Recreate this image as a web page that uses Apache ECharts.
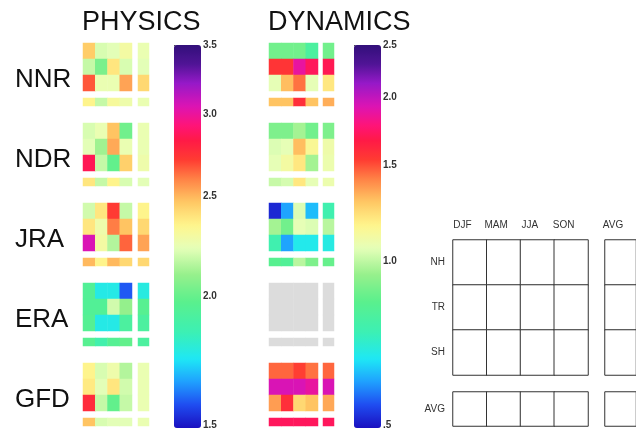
<!DOCTYPE html>
<html><head><meta charset="utf-8">
<script src="https://cdn.jsdelivr.net/npm/echarts@6/dist/echarts.min.js"></script>
<style>html,body{margin:0;padding:0;background:#fff}#c{width:636px;height:430px}</style>
</head><body><div id="c"></div>
<script>
const models = ['NNR', 'NDR', 'JRA', 'ERA', 'GFD'];
const seasons = ['DJF', 'MAM', 'JJA', 'SON'];
const regions = ['NH', 'TR', 'SH'];
const avgLabel = ['AVG'];
const panelTitles = ['PHYSICS', 'DYNAMICS'];
const physicsTicks = [1.5, 2.0, 2.5, 3.0, 3.5];
const physicsTickLabels = ['1.5', '2.0', '2.5', '3.0', '3.5'];
const dynamicsTicks = [0.5, 1.0, 1.5, 2.0, 2.5];
const dynamicsTickLabels = ['.5', '1.0', '1.5', '2.0', '2.5'];

// rows: NH, TR, SH, AVG ; columns: DJF, MAM, JJA, SON, AVG
const physicsNNR = [
  [2.46, 2.21, 2.23, 2.29, 2.25],
  [2.18, 2.05, 2.39, 2.21, 2.23],
  [2.67, 2.25, 2.25, 2.54, 2.43],
  [2.35, 2.18, 2.31, 2.27, 2.25]];
const physicsNDR = [
  [2.21, 2.25, 2.48, 2.03, 2.25],
  [2.23, 2.12, 2.53, 2.25, 2.25],
  [2.86, 2.18, 2.00, 2.45, 2.27],
  [2.39, 2.18, 2.35, 2.21, 2.23]];
const physicsJRA = [
  [2.20, 2.39, 2.72, 2.18, 2.35],
  [2.39, 2.27, 2.61, 2.48, 2.43],
  [3.06, 2.29, 2.15, 2.65, 2.54],
  [2.50, 2.35, 2.50, 2.43, 2.43]];
const physicsERA = [
  [1.95, 1.77, 1.77, 1.59, 1.78],
  [1.95, 1.95, 2.20, 2.10, 1.97],
  [1.96, 1.77, 1.77, 1.92, 1.92],
  [1.97, 1.88, 1.96, 2.00, 1.92]];
const physicsGFD = [
  [2.35, 2.21, 2.27, 2.15, 2.25],
  [2.38, 2.23, 2.39, 2.20, 2.25],
  [2.77, 2.18, 2.00, 2.18, 2.25],
  [2.48, 2.21, 2.23, 2.23, 2.25]];

const dynamicsNNR = [
  [0.89, 0.89, 0.89, 0.80, 0.89],
  [1.57, 1.57, 1.88, 1.72, 1.70],
  [1.07, 1.31, 1.45, 1.07, 1.21],
  [1.30, 1.30, 1.59, 1.30, 1.34]];
const dynamicsNDR = [
  [0.91, 0.91, 0.97, 0.89, 0.91],
  [1.05, 1.07, 1.31, 1.15, 1.10],
  [1.07, 1.12, 1.21, 0.97, 1.09],
  [1.02, 1.04, 1.21, 1.07, 1.09]];
const dynamicsJRA = [
  [0.52, 0.61, 1.05, 0.63, 0.76],
  [0.97, 0.89, 1.07, 1.05, 1.00],
  [0.76, 0.61, 0.68, 0.68, 0.69],
  [0.84, 0.82, 1.00, 0.91, 0.87]];
const dynamicsERA = [ // no data (shown grey)
  [null, null, null, null, null],
  [null, null, null, null, null],
  [null, null, null, null, null],
  [null, null, null, null, null]];
const dynamicsGFD = [
  [1.47, 1.47, 1.54, 1.45, 1.47],
  [1.94, 1.94, 1.94, 1.88, 1.94],
  [1.37, 1.59, 1.25, 1.30, 1.35],
  [1.72, 1.72, 1.72, 1.72, 1.72]];

const physicsBlocks = [physicsNNR, physicsNDR, physicsJRA, physicsERA, physicsGFD];
const dynamicsBlocks = [dynamicsNNR, dynamicsNDR, dynamicsJRA, dynamicsERA, dynamicsGFD];

// ---------- styling / layout ----------
const FONT = '"Liberation Sans", Arial, Helvetica, sans-serif';
const rampStops = [
  [0.00, '#1a10c0'], [0.06, '#1f4cf0'], [0.12, '#1fa0ff'], [0.18, '#1ee8f5'],
  [0.25, '#3cf0b4'], [0.33, '#5af08c'], [0.40, '#96f08c'], [0.47, '#e6ffb9'],
  [0.53, '#fff58c'], [0.59, '#ffc864'], [0.65, '#ff8246'], [0.70, '#ff3c32'],
  [0.75, '#ff1a46'], [0.79, '#ff1478'], [0.84, '#dc14b4'], [0.90, '#9619c8'],
  [0.95, '#501496'], [1.00, '#32107a']];
function hex2rgb(h) { return [1, 3, 5].map(i => parseInt(h.substr(i, 2), 16)); }
function buildRamp(n) {
  const out = [];
  for (let k = 0; k < n; k++) {
    const f = k / (n - 1);
    let i = 0;
    while (i < rampStops.length - 2 && f > rampStops[i + 1][0]) i++;
    const [f0, c0] = rampStops[i], [f1, c1] = rampStops[i + 1];
    const t = Math.min(1, Math.max(0, (f - f0) / (f1 - f0)));
    const a = hex2rgb(c0), b = hex2rgb(c1);
    out.push('rgb(' + a.map((v, j) => Math.round(v + (b[j] - v) * t)).join(',') + ')');
  }
  return out;
}
const ramp = buildRamp(121);

const grids = [], xAxes = [], yAxes = [], series = [], titles = [];
function addGrid(rect, xcats, ycats, xOpt, yOpt) {
  const gi = grids.length;
  grids.push(Object.assign({ containLabel: false, show: false }, rect));
  xAxes.push(Object.assign({ type: 'category', data: xcats, gridIndex: gi, show: false }, xOpt || {}));
  yAxes.push(Object.assign({ type: 'category', data: ycats, gridIndex: gi, show: false, inverse: true }, yOpt || {}));
  return gi;
}

const panels = [
  { blocks: physicsBlocks, mainX: 83, avgX: 138, barX: 174, ticks: physicsTicks, tickLabels: physicsTickLabels, idx: [] },
  { blocks: dynamicsBlocks, mainX: 269, avgX: 323, barX: 354, ticks: dynamicsTicks, tickLabels: dynamicsTickLabels, idx: [] }];
const MAIN_W = 49, AVG_W = 11, MAIN_H = 48, AVGROW_H = 8, AVGROW_DY = 55, BLOCK_TOP = 43, BLOCK_STEP = 80;
const parts = [
  { rows: [0, 1, 2], cols: [0, 1, 2, 3] },
  { rows: [0, 1, 2], cols: [4] },
  { rows: [3], cols: [0, 1, 2, 3] },
  { rows: [3], cols: [4] }];

panels.forEach((p, pi) => {
  p.blocks.forEach((block, bi) => {
    const y0 = BLOCK_TOP + BLOCK_STEP * bi;
    parts.forEach(part => {
      const isAvgCol = part.cols[0] === 4, isAvgRow = part.rows[0] === 3;
      const gi = addGrid({
        left: isAvgCol ? p.avgX : p.mainX,
        top: isAvgRow ? y0 + AVGROW_DY : y0,
        width: isAvgCol ? AVG_W : MAIN_W,
        height: isAvgRow ? AVGROW_H : MAIN_H
      }, part.cols.map(String), part.rows.map(String));
      const data = [], missing = [];
      part.rows.forEach((r, ri) => part.cols.forEach((c, ci) => {
        const v = block[r][c];
        if (v == null) missing.push([ci, ri, 0]);
        else data.push([ci, ri, Math.log(v)]);
      }));
      if (data.length) {
        p.idx.push(series.length);
        series.push({ type: 'heatmap', xAxisIndex: gi, yAxisIndex: gi, data: data,
          itemStyle: { borderWidth: 0 }, emphasis: { disabled: true }, silent: true });
      }
      if (missing.length) {
        series.push({ type: 'heatmap', xAxisIndex: gi, yAxisIndex: gi, data: missing,
          itemStyle: { color: '#dcdcdc', borderWidth: 0 }, emphasis: { disabled: true }, silent: true });
      }
    });
  });
  // colorbar axis
  const ci = grids.length;
  grids.push({ left: p.barX, top: 45, width: 27, height: 383, show: false });
  xAxes.push({ type: 'value', gridIndex: ci, show: false, min: 0, max: 1 });
  yAxes.push({
    type: 'log', gridIndex: ci, min: p.ticks[0], max: p.ticks[p.ticks.length - 1], position: 'right',
    axisLine: { show: false }, splitLine: { show: false },
    axisTick: { show: true, length: 3, customValues: p.ticks, lineStyle: { color: '#444', width: 1 } },
    axisLabel: {
      customValues: p.ticks, margin: 2, fontSize: 10, fontWeight: 'bold', color: '#333', fontFamily: FONT,
      formatter: v => { let best = 0; p.ticks.forEach((t, k) => { if (Math.abs(t - v) < Math.abs(p.ticks[best] - v)) best = k; }); return p.tickLabels[best]; }
    }
  });
  titles.push({ text: panelTitles[pi], left: p.mainX - 1, top: 9, padding: 0,
    textStyle: { fontSize: 27, fontWeight: 'normal', color: '#111', fontFamily: FONT, lineHeight: 27 } });
});

models.forEach((m, bi) => {
  titles.push({ text: m, left: 15, top: 67 + BLOCK_STEP * bi, padding: 0,
    textStyle: { fontSize: 26, fontWeight: 'normal', color: '#111', fontFamily: FONT, lineHeight: 26 } });
});

// ---------- key / schematic ----------
const keyLabel = { show: true, fontSize: 10, color: '#333', fontFamily: FONT };
const keyCell = { color: '#ffffff', borderColor: '#333', borderWidth: 1 };
function keySeries(gi, nx, ny) {
  const d = [];
  for (let i = 0; i < nx; i++) for (let j = 0; j < ny; j++) d.push([i, j, 0]);
  series.push({ type: 'heatmap', xAxisIndex: gi, yAxisIndex: gi, data: d, itemStyle: keyCell,
    emphasis: { disabled: true }, silent: true });
}
const topAxis = { show: true, position: 'top', axisLine: { show: false }, axisTick: { show: false },
  axisLabel: Object.assign({}, keyLabel, { margin: 10, padding: [0, 15, 0, 0] }) };
const leftAxis = { show: true, position: 'left', axisLine: { show: false }, axisTick: { show: false },
  axisLabel: Object.assign({}, keyLabel, { margin: 8, padding: [0, 0, 7, 0] }) };
let g;
g = addGrid({ left: 453, top: 240, width: 135, height: 135 }, seasons, regions, topAxis, leftAxis); keySeries(g, 4, 3);
g = addGrid({ left: 605, top: 240, width: 34, height: 135 }, avgLabel, regions, topAxis, null); keySeries(g, 1, 3);
g = addGrid({ left: 453, top: 392, width: 135, height: 34 }, seasons, avgLabel, null, leftAxis); keySeries(g, 4, 1);
g = addGrid({ left: 605, top: 392, width: 34, height: 34 }, avgLabel, avgLabel, null, null); keySeries(g, 1, 1);

const visualMaps = panels.map((p, pi) => ({
  type: 'continuous', dimension: 2, seriesIndex: p.idx,
  min: Math.log(p.ticks[0]), max: Math.log(p.ticks[p.ticks.length - 1]),
  inRange: { color: ramp }, calculable: false, orient: 'vertical', hoverLink: false,
  left: p.barX, top: 45, itemWidth: 27, itemHeight: 383, padding: 0, text: null, showLabel: false
}));

const chart = echarts.init(document.getElementById('c'), null, { renderer: 'canvas' });
chart.setOption({
  animation: false,
  backgroundColor: '#ffffff',
  title: titles,
  grid: grids, xAxis: xAxes, yAxis: yAxes,
  visualMap: visualMaps,
  series: series
});
</script></body></html>
